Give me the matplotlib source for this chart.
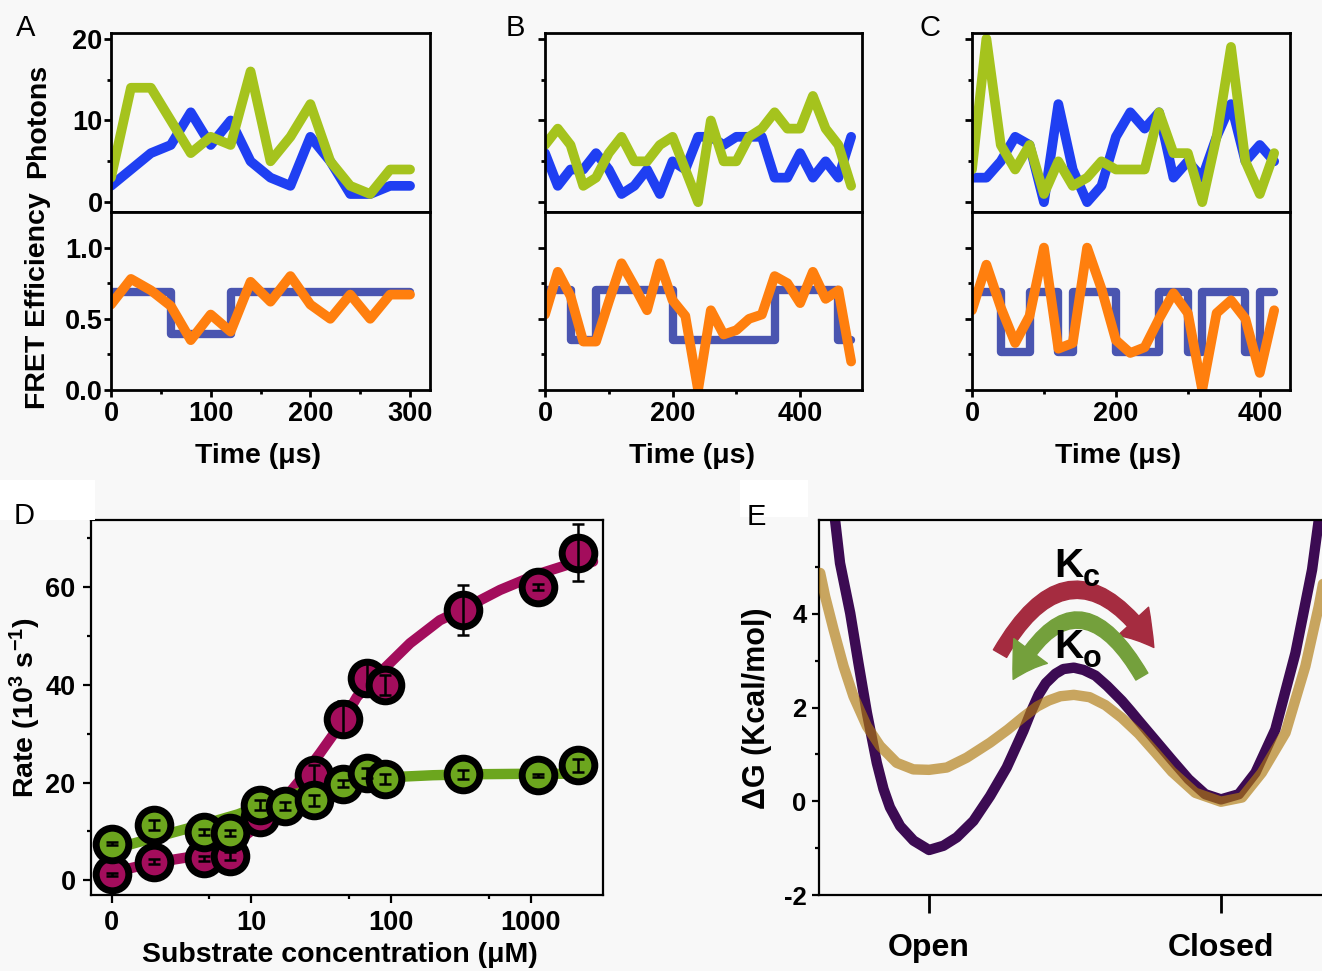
import numpy as np
import matplotlib
matplotlib.use("Agg")
import matplotlib.pyplot as plt
from matplotlib.patches import FancyArrowPatch, Rectangle
from matplotlib.ticker import FixedLocator, NullFormatter

plt.rcParams['font.family'] = ['Liberation Sans', 'DejaVu Sans']
plt.rcParams['font.weight'] = 'bold'
plt.rcParams['mathtext.fontset'] = 'custom'
plt.rcParams['mathtext.rm'] = 'Liberation Sans:bold'
plt.rcParams['mathtext.bf'] = 'Liberation Sans:bold'
plt.rcParams['mathtext.default'] = 'rm'
plt.rcParams['axes.unicode_minus'] = False

# ---------------- data ----------------
# panel A
time_a = [0, 20, 40, 60, 80, 100, 120, 140, 160, 180, 200, 220, 240, 260, 280, 300]
donor_a = [2, 4, 6, 7, 11, 7, 10, 5, 3, 2, 8, 5, 1, 1, 2, 2]
acceptor_a = [3, 14, 14, 10, 6, 8, 7, 16, 5, 8, 12, 5, 2, 1, 4, 4]
fret_a = [0.60, 0.78, 0.70, 0.59, 0.35, 0.53, 0.41, 0.76, 0.62, 0.80, 0.60, 0.50, 0.67, 0.50, 0.67, 0.67]
state_t_a = [0, 60, 120, 300]
state_a = [0.69, 0.39, 0.69, 0.69]

# panel B
time_b = [0, 20, 40, 60, 80, 100, 120, 140, 160, 180, 200, 220, 240, 260, 280, 300,
          320, 340, 360, 380, 400, 420, 440, 460, 480]
donor_b = [6, 2, 4, 4, 6, 4, 1, 2, 4, 1, 5, 4, 8, 8, 7, 8, 8, 8, 3, 3, 6, 3, 5, 3, 8]
acceptor_b = [7, 9, 7, 2, 3, 6, 8, 5, 5, 7, 8, 4, 0, 10, 5, 5, 8, 9, 11, 9, 9, 13, 9, 7, 2]
fret_b = [0.53, 0.83, 0.66, 0.34, 0.34, 0.62, 0.89, 0.73, 0.56, 0.89, 0.63, 0.52, 0.0,
          0.56, 0.39, 0.42, 0.50, 0.53, 0.80, 0.75, 0.61, 0.83, 0.64, 0.70, 0.20]
state_t_b = [0, 40, 80, 200, 360, 460, 480]
state_b = [0.70, 0.35, 0.70, 0.35, 0.70, 0.35, 0.35]

# panel C
time_c = [0, 20, 40, 60, 80, 100, 120, 140, 160, 180, 200, 220, 240, 260, 280, 300,
          320, 340, 360, 380, 400, 420]
donor_c = [3, 3, 5, 8, 7, 0, 12, 4, 0, 2, 8, 11, 9, 11, 3, 5, 3, 8, 12, 5, 7, 5]
acceptor_c = [4, 20, 7, 4, 7, 1, 5, 2, 3, 5, 4, 4, 4, 11, 6, 6, 0, 8, 19, 5, 1, 6]
fret_c = [0.56, 0.88, 0.58, 0.33, 0.52, 1.0, 0.29, 0.33, 1.0, 0.71, 0.35, 0.26, 0.30,
          0.50, 0.68, 0.54, 0.0, 0.54, 0.63, 0.50, 0.12, 0.56]
state_t_c = [0, 40, 80, 120, 140, 200, 260, 300, 320, 380, 400, 420]
state_c = [0.69, 0.27, 0.69, 0.27, 0.69, 0.27, 0.69, 0.27, 0.69, 0.27, 0.69, 0.69]

# panel D (concentration 0 is drawn at the "0" tick of the log axis)
conc_red = [0, 2, 4.6, 7, 11.5, 28, 45, 67, 90, 330, 1130, 2200]
rate_red = [1.2, 3.8, 4.5, 5.0, 13.0, 21.5, 33.1, 41.3, 39.9, 55.3, 60.0, 67.0]
err_red = [0.4, 0.5, 0.5, 0.8, 1.0, 2.0, 3.5, 3.5, 2.0, 5.2, 0.6, 5.8]
conc_green = [0, 2, 4.6, 7, 11.5, 17.5, 28, 45, 67, 90, 330, 1130, 2200]
rate_green = [7.5, 11.3, 9.8, 9.6, 15.4, 15.2, 16.4, 19.8, 22.0, 20.8, 21.7, 21.5, 23.5]
err_green = [0.3, 1.0, 0.6, 0.6, 1.0, 0.8, 1.1, 0.7, 1.0, 1.0, 0.9, 0.3, 1.4]
fit_conc_red = [0, 2, 4.5, 8, 11.5, 16, 22, 31, 45, 57, 83, 137, 224, 330, 605, 1125, 1820, 2800]
fit_rate_red = [1.6, 3.6, 5.2, 8.0, 11.5, 15.5, 20.3, 26.0, 32.5, 37.5, 42.4, 48.5, 53.2,
                55.5, 59.4, 62.6, 64.5, 65.2]
fit_conc_green = [0, 2.75, 5, 8, 11, 17, 28, 45, 70, 100, 200, 400, 1000, 2200]
fit_rate_green = [6.3, 9.8, 11.8, 13.5, 15.0, 17.0, 18.7, 20.0, 20.8, 21.1, 21.5, 21.7, 21.8, 21.8]

# panel E (reaction coordinate: Open = 0, Closed = 1)
coord_purple = [-0.322, -0.305, -0.27, -0.242, -0.213, -0.179, -0.156, -0.134, -0.099, -0.053,
                0.0, 0.049, 0.095, 0.152, 0.209, 0.266, 0.323, 0.35, 0.376, 0.40, 0.433,
                0.46, 0.496, 0.53, 0.57, 0.61, 0.661, 0.69, 0.718, 0.775, 0.832, 0.889,
                0.946, 1.0, 1.061, 1.118, 1.186, 1.255, 1.312, 1.335]
dg_purple = [6.0, 5.08, 4.01, 2.95, 1.89, 0.82, 0.26, -0.13, -0.53, -0.84, -1.04, -0.95,
             -0.77, -0.42, 0.11, 0.72, 1.50, 1.92, 2.28, 2.52, 2.72, 2.82, 2.85, 2.80,
             2.68, 2.46, 2.14, 1.93, 1.72, 1.30, 0.88, 0.47, 0.15, 0.04, 0.15, 0.61, 1.53,
             3.16, 4.94, 6.0]
coord_gold = [-0.373, -0.356, -0.327, -0.293, -0.259, -0.213, -0.168, -0.111, -0.054, 0.0,
              0.061, 0.129, 0.209, 0.27, 0.323, 0.37, 0.41, 0.45, 0.496, 0.55, 0.604, 0.66,
              0.718, 0.775, 0.832, 0.912, 1.0, 1.072, 1.14, 1.221, 1.289, 1.335, 1.352]
dg_gold = [4.87, 4.37, 3.66, 2.88, 2.24, 1.60, 1.18, 0.82, 0.68, 0.67, 0.72, 0.93, 1.25,
           1.53, 1.80, 2.02, 2.15, 2.24, 2.27, 2.22, 2.05, 1.78, 1.44, 1.04, 0.63, 0.18,
           -0.01, 0.08, 0.61, 1.46, 2.88, 4.16, 4.72]
state_labels = ['Open', 'Closed']

W, H = 1322, 971
fig = plt.figure(figsize=(W / 100, H / 100), dpi=100, facecolor='#f8f8f8')


def fx(px):
    return px / W


def fy(py):
    return 1 - py / H


BLUE = '#1f3ff2'
LIME = '#a5c31d'
ORANGE = '#ff7f0e'
STEP = '#4a55b0'


def trace_panel(left, right, t, donor, acceptor, fret, st_t, st_v, xmax,
                xmajor, xminor, show_y):
    ax_t = fig.add_axes([fx(left), fy(212), fx(right - left), (212 - 33) / H])
    ax_b = fig.add_axes([fx(left), fy(390), fx(right - left), (390 - 212) / H])
    for ax in (ax_t, ax_b):
        ax.set_facecolor('#f8f8f8')
        for s in ax.spines.values():
            s.set_linewidth(2)
        ax.set_xlim(0, xmax)
    kw = dict(lw=7, solid_capstyle='round', solid_joinstyle='round')
    ax_t.plot(t, donor, color=BLUE, **kw)
    ax_t.plot(t, acceptor, color=LIME, **kw)
    ax_t.set_ylim(-1.2, 20.7)
    ax_t.yaxis.set_major_locator(FixedLocator([0, 10, 20]))
    ax_t.yaxis.set_minor_locator(FixedLocator([5, 15]))
    ax_t.tick_params(axis='x', which='both', bottom=False, labelbottom=False)
    ax_t.tick_params(axis='y', which='major', direction='out', length=5, width=2,
                     labelsize=19.5, pad=1, labelleft=show_y)
    ax_t.tick_params(axis='y', which='minor', direction='out', length=3, width=2)

    ax_b.plot(st_t, st_v, color=STEP, lw=6, drawstyle='steps-post',
              solid_capstyle='round', solid_joinstyle='round')
    ax_b.plot(t, fret, color=ORANGE, **kw)
    ax_b.set_ylim(0, 1.25)
    ax_b.yaxis.set_major_locator(FixedLocator([0, 0.5, 1.0]))
    ax_b.yaxis.set_minor_locator(FixedLocator([0.25, 0.75]))
    ax_b.set_yticklabels(['0.0', '0.5', '1.0'])
    ax_b.xaxis.set_major_locator(FixedLocator(xmajor))
    ax_b.xaxis.set_minor_locator(FixedLocator(xminor))
    ax_b.tick_params(axis='y', which='major', direction='out', length=5, width=2,
                     labelsize=19.5, pad=1, labelleft=show_y)
    ax_b.tick_params(axis='y', which='minor', direction='out', length=3, width=2)
    ax_b.tick_params(axis='x', which='major', direction='out', length=5, width=2,
                     labelsize=19.5, pad=3)
    ax_b.tick_params(axis='x', which='minor', direction='out', length=3, width=2)
    return ax_t, ax_b


trace_panel(111, 430, time_a, donor_a, acceptor_a, fret_a, state_t_a, state_a, 320,
            [0, 100, 200, 300], [50, 150, 250], True)
trace_panel(545, 862, time_b, donor_b, acceptor_b, fret_b, state_t_b, state_b, 497,
            [0, 200, 400], [100, 300], False)
trace_panel(972, 1290, time_c, donor_c, acceptor_c, fret_c, state_t_c, state_c, 442,
            [0, 200, 400], [100, 300], False)

fig.text(fx(38), fy(121), 'Photons', rotation=90, ha='center', va='center', fontsize=20.5)
fig.text(fx(38), fy(301), 'FRET Efficiency', rotation=90, ha='center', va='center', fontsize=20.5)
for cx in (258, 692, 1118):
    fig.text(fx(cx), fy(456), 'Time (\u03bcs)', ha='center', va='center', fontsize=20.5)

# ---------------- panel D ----------------
axd = fig.add_axes([fx(91), fy(895), fx(603 - 91), (895 - 520) / H])
axd.set_facecolor('#f8f8f8')
for s in axd.spines.values():
    s.set_linewidth(1.6)
axd.set_xscale('log')


def zero_at_one(c):
    c = np.asarray(c, dtype=float)
    return np.where(c == 0, 1.0, c)


RED = '#a30d5c'
GRN = '#6ca61e'
axd.plot(zero_at_one(fit_conc_red), fit_rate_red, color=RED, lw=7.5,
         solid_capstyle='round', zorder=2)
axd.plot(zero_at_one(fit_conc_green), fit_rate_green, color=GRN, lw=7.5,
         solid_capstyle='round', zorder=2)
axd.plot(zero_at_one(conc_red), rate_red, 'o', ms=23.5, mfc=RED, mec='k', mew=5, zorder=3)
axd.errorbar(zero_at_one(conc_red), rate_red, yerr=err_red, fmt='none', ecolor='k',
             elinewidth=1.8, capsize=4, capthick=1.8, zorder=3.5)
axd.plot(zero_at_one(conc_green), rate_green, 'o', ms=23.5, mfc=GRN, mec='k', mew=5, zorder=4)
axd.errorbar(zero_at_one(conc_green), rate_green, yerr=err_green, fmt='none', ecolor='k',
             elinewidth=1.8, capsize=4, capthick=1.8, zorder=4.5)
axd.set_xlim(0.71, 3300)
axd.set_ylim(-3, 73.7)
axd.xaxis.set_major_locator(FixedLocator([1, 10, 100, 1000]))
axd.xaxis.set_minor_locator(FixedLocator([5, 50, 500]))
axd.xaxis.set_minor_formatter(NullFormatter())
axd.set_xticklabels(['0', '10', '100', '1000'])
axd.yaxis.set_major_locator(FixedLocator([0, 20, 40, 60]))
axd.yaxis.set_minor_locator(FixedLocator([10, 30, 50, 70]))
axd.tick_params(which='major', direction='out', length=6, width=1.6, labelsize=19.5, pad=5)
axd.tick_params(which='minor', direction='out', length=3, width=1.6)
fig.text(fx(25), fy(708), 'Rate (10$^3$ s$^{-1}$)', rotation=90, ha='center', va='center',
         fontsize=20.5)
fig.text(fx(340), fy(955), 'Substrate concentration (\u03bcM)', ha='center', va='center',
         fontsize=20.5)

# ---------------- panel E ----------------
axe = fig.add_axes([fx(819), fy(895), fx(W - 819), (895 - 520) / H])
axe.set_facecolor('#f8f8f8')
for s in axe.spines.values():
    s.set_linewidth(1.6)
axe.spines['right'].set_visible(False)
axe.plot(coord_purple, dg_purple, color='#3c0b53', lw=7.5, solid_capstyle='round',
         solid_joinstyle='round', zorder=2)
axe.plot(coord_gold, dg_gold, color='#b07a10', alpha=0.66, lw=7.5, solid_capstyle='round',
         solid_joinstyle='round', zorder=3)
axe.set_xlim(-0.377, 1.346)
axe.set_ylim(-2, 6)
axe.yaxis.set_major_locator(FixedLocator([-2, 0, 2, 4]))
axe.yaxis.set_minor_locator(FixedLocator([-1, 1, 3, 5]))
axe.set_xticks([0, 1])
axe.set_xticklabels(state_labels)
axe.tick_params(axis='y', which='major', direction='out', length=5, width=1.6,
                labelsize=18.5, pad=4)
axe.tick_params(axis='y', which='minor', direction='out', length=3, width=1.6)
axe.tick_params(axis='x', direction='out', length=13, width=2, labelsize=23, pad=14)
fig.text(fx(757), fy(708), '\u0394G (Kcal/mol)', rotation=90, ha='center', va='center',
         fontsize=22)

# transition arrows
arr_c = FancyArrowPatch((0.243, 3.15), (0.77, 3.28), connectionstyle='arc3,rad=-0.79',
                        arrowstyle='simple,head_length=24,head_width=30,tail_width=11',
                        color='#a52c40', mutation_scale=1, shrinkA=0, shrinkB=0, zorder=4)
arr_o = FancyArrowPatch((0.729, 2.66), (0.288, 2.60), connectionstyle='arc3,rad=0.9',
                        arrowstyle='simple,head_length=24,head_width=30,tail_width=10',
                        color='#74a03c', mutation_scale=1, shrinkA=0, shrinkB=0, zorder=4)
axe.add_patch(arr_c)
axe.add_patch(arr_o)
fig.text(fx(1054), fy(577), 'K', ha='left', va='baseline', fontsize=29)
fig.text(fx(1083), fy(586), 'c', ha='left', va='baseline', fontsize=22)
fig.text(fx(1054), fy(658), 'K', ha='left', va='baseline', fontsize=29)
fig.text(fx(1083), fy(667), 'o', ha='left', va='baseline', fontsize=22)

# panel letters (white boxes behind D and E as in the figure)
fig.patches.append(Rectangle((0, fy(520)), fx(95), 40 / H, transform=fig.transFigure,
                             facecolor='white', edgecolor='none', zorder=0))
fig.patches.append(Rectangle((fx(740), fy(517)), fx(68), 37 / H, transform=fig.transFigure,
                             facecolor='white', edgecolor='none', zorder=0))
for lab, x, y in [('A', 26, 28), ('B', 515, 28), ('C', 930, 28), ('D', 24, 516), ('E', 756, 517)]:
    fig.text(fx(x), fy(y), lab, ha='center', va='center', fontsize=21, fontweight='normal')

fig.savefig('out.png', dpi=100, facecolor=fig.get_facecolor())
